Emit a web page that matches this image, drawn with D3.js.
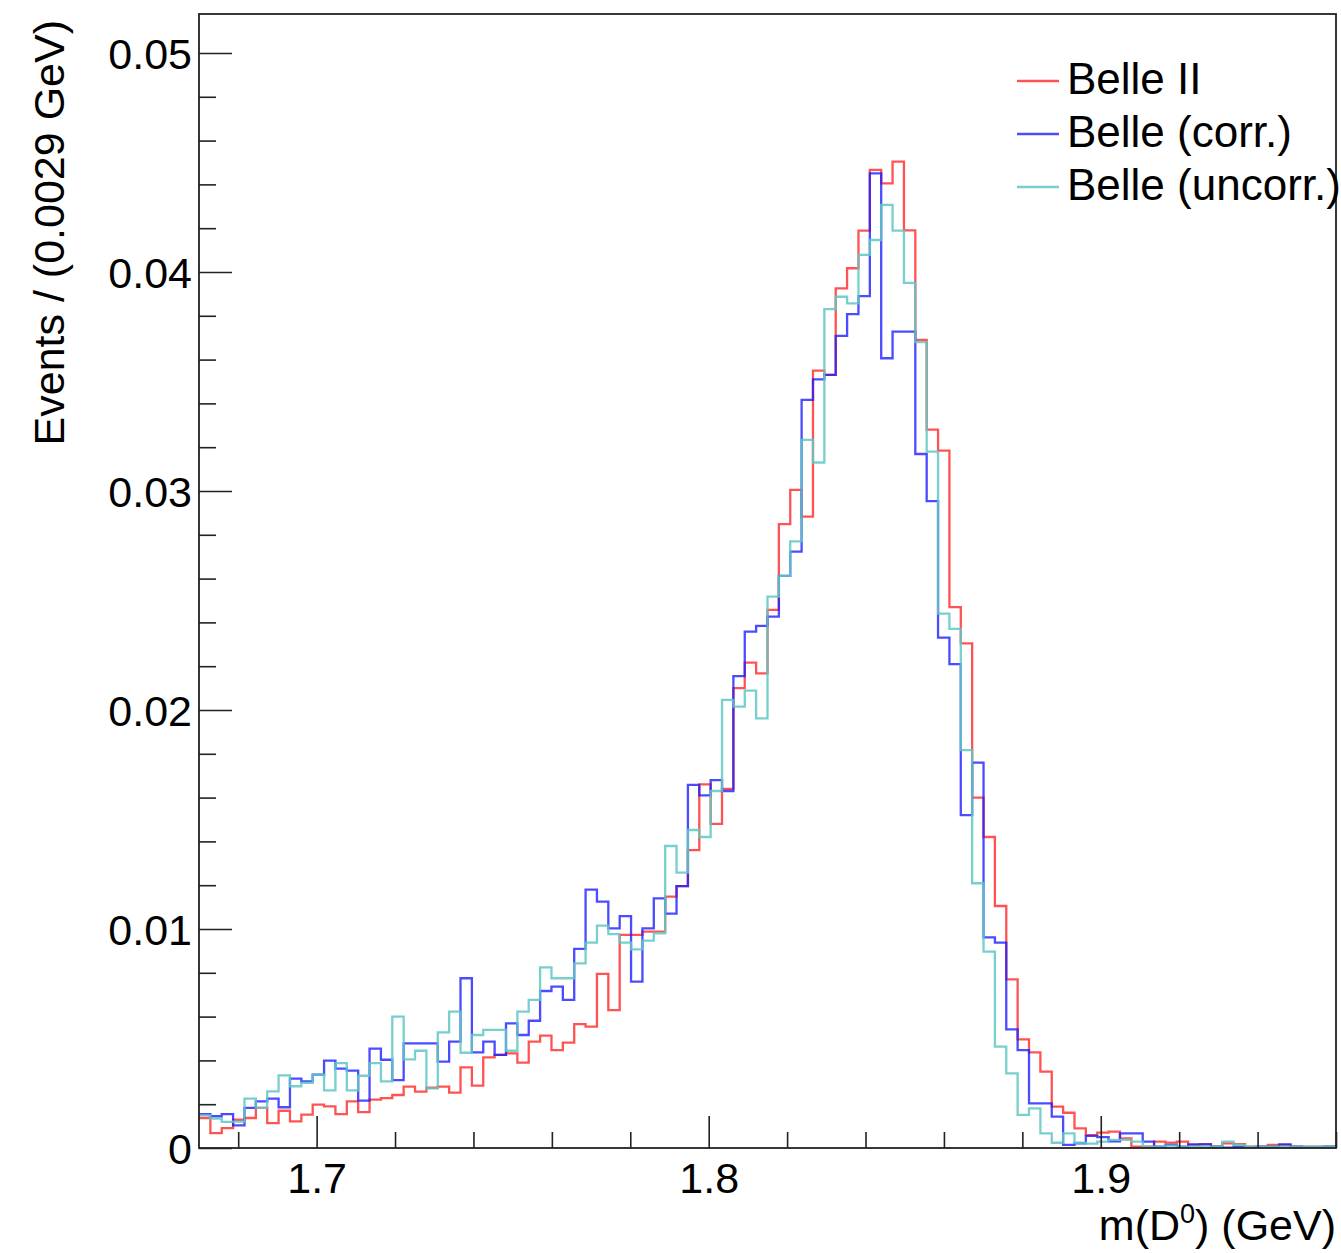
<!DOCTYPE html>
<html>
<head>
<meta charset="utf-8">
<script src="https://cdn.jsdelivr.net/npm/d3@7"></script>
<style>
  body { margin: 0; background: #fff; }
  svg { display: block; }
  text { font-family: "Liberation Sans", Arial, Helvetica, sans-serif; fill: #000; }
</style>
</head>
<body>
<div id="chart"></div>
<script>
// histogram binning: 100 bins of 0.0029 GeV
var xMin = 1.67, xMax = 1.96, nBins = 100

// bin contents, in units of 1e-3
var belleII = [1.37,0.68,0.91,1.29,1.37,1.83,1.14,1.70,1.22,1.52,
  1.98,1.90,1.55,2.13,1.64,2.21,2.28,2.42,2.80,2.57,
  2.75,2.80,2.53,3.68,2.85,4.14,4.25,4.32,3.90,4.86,
  5.13,4.47,4.81,5.66,5.54,7.95,6.30,9.73,9.73,9.88,
  9.88,11.48,11.96,13.60,16.60,14.80,16.40,21.00,22.16,21.67,
  24.57,28.49,30.05,28.83,35.50,35.30,39.25,40.17,41.89,44.66,
  44.05,45.04,41.90,36.90,32.80,31.84,24.70,23.04,16.00,14.20,
  11.05,7.70,4.96,4.37,3.49,1.89,1.61,0.90,0.59,0.70,
  0.75,0.44,0.06,0.06,0.29,0.25,0.29,0.14,0.18,0.06,
  0.21,0.18,0.06,0.06,0.14,0.14,0.06,0.06,0.06,0.06]

var belleCorr = [1.55,1.45,1.55,1.03,1.83,2.13,2.25,1.86,3.17,3.04,
  3.35,3.99,3.62,3.53,2.16,4.54,4.03,3.10,4.78,4.78,
  4.78,3.94,4.86,7.75,4.37,4.86,4.25,5.69,5.16,5.81,
  7.17,7.37,6.76,9.09,11.80,11.25,10.03,10.59,7.60,10.03,
  11.40,10.70,11.96,16.58,16.10,16.80,16.30,21.55,23.58,23.84,
  24.26,26.12,27.23,34.16,35.10,35.30,37.08,38.08,38.90,44.50,
  36.06,37.28,37.28,31.69,29.54,23.30,22.09,15.20,17.60,9.62,
  9.38,5.42,4.47,2.04,2.04,1.43,0.14,0.21,0.55,0.50,
  0.30,0.67,0.67,0.29,0.06,0.14,0.06,0.17,0.17,0.06,
  0.02,0.06,0.02,0.06,0.06,0.17,0.06,0.02,0.02,0.06]

var belleUncorr = [1.49,1.34,1.19,1.20,2.25,1.83,2.59,3.32,2.82,2.97,
  3.35,2.63,3.88,2.63,3.30,3.88,3.04,6.00,4.05,4.44,
  2.72,5.28,6.23,4.35,5.16,5.39,5.39,4.44,6.23,6.76,
  8.25,7.75,7.75,8.43,9.38,10.15,9.77,9.38,9.07,9.47,
  9.80,13.79,12.57,14.52,14.20,16.30,20.46,20.15,20.88,19.62,
  25.18,26.12,27.70,32.33,31.30,38.30,38.87,38.57,40.78,41.46,
  43.06,41.89,39.50,36.80,31.80,24.40,23.70,18.17,12.09,8.97,
  4.63,3.41,1.51,1.81,0.67,0.24,0.67,0.24,0.20,0.29,
  0.37,0.37,0.29,0.06,0.06,0.11,0.06,0.06,0.06,0.06,
  0.29,0.14,0.06,0.06,0.06,0.06,0.06,0.06,0.06,0.06]

var seriesNames = ["Belle II", "Belle (corr.)", "Belle (uncorr.)"]
var seriesColors = ["rgba(255,40,40,0.8)", "rgba(30,30,255,0.8)", "rgba(95,200,195,0.85)"]

var xMajorTicks = [1.7, 1.8, 1.9]
var yMajorTicks = [0, 0.01, 0.02, 0.03, 0.04, 0.05]

var width = 1341, height = 1253
var frameL = 199, frameR = 1336, frameT = 14, frameB = 1148

var svg = d3.select("#chart")
  .append("svg")
  .attr("width", width)
  .attr("height", height)

var x = d3.scaleLinear().domain([xMin, xMax]).range([frameL, frameR])
var y = d3.scaleLinear().domain([0, 0.05178]).range([frameB, frameT])

var binW = (xMax - xMin) / nBins

svg.append("clipPath").attr("id", "frameClip")
  .append("rect")
  .attr("x", frameL).attr("y", frameT)
  .attr("width", frameR - frameL).attr("height", frameB - frameT)

// histograms as step lines
var allSeries = [belleII, belleCorr, belleUncorr]
var line = d3.line()
  .x(d => x(d[0]))
  .y(d => y(d[1]))
  .curve(d3.curveStepAfter)

allSeries.forEach(function (vals, k) {
  var pts = vals.map((v, i) => [xMin + i * binW, v / 1000])
  pts.push([xMax, vals[vals.length - 1] / 1000])
  svg.append("path")
    .attr("clip-path", "url(#frameClip)")
    .attr("d", line(pts))
    .attr("fill", "none")
    .attr("stroke", seriesColors[k])
    .attr("stroke-width", 2.3)
})

// y axis: major + minor ticks, drawn inside the frame
var yMinor = d3.range(0, 0.0519, 0.002).filter(v => Math.abs(v * 100 - Math.round(v * 100)) > 1e-6)
svg.append("g")
  .attr("transform", `translate(${frameL},0)`)
  .call(d3.axisLeft(y).tickValues(yMinor).tickSize(-17).tickFormat(""))
  .call(g => g.select(".domain").remove())
var yAxis = svg.append("g")
  .attr("transform", `translate(${frameL},0)`)
  .call(d3.axisLeft(y).tickValues(yMajorTicks).tickSize(-33).tickPadding(7)
    .tickFormat(d => d === 0 ? "0" : d3.format(".2f")(d)))
yAxis.select(".domain").remove()
yAxis.selectAll("text").style("font-size", "43px").attr("dy", "0.36em")

// x axis
var xMinor = d3.range(1.68, 1.961, 0.02).filter(v => Math.abs(v * 10 - Math.round(v * 10)) > 1e-6)
svg.append("g")
  .attr("transform", `translate(0,${frameB})`)
  .call(d3.axisBottom(x).tickValues(xMinor).tickSize(-16).tickFormat(""))
  .call(g => g.select(".domain").remove())
var xAxis = svg.append("g")
  .attr("transform", `translate(0,${frameB})`)
  .call(d3.axisBottom(x).tickValues(xMajorTicks).tickSize(-32).tickPadding(14)
    .tickFormat(d3.format(".1f")))
xAxis.select(".domain").remove()
xAxis.selectAll("text").style("font-size", "43px")

svg.selectAll(".tick line").attr("stroke", "#222").attr("stroke-width", 1.6)

// frame
svg.append("rect")
  .attr("x", frameL).attr("y", frameT)
  .attr("width", frameR - frameL).attr("height", frameB - frameT)
  .attr("fill", "none")
  .attr("stroke", "#222")
  .attr("stroke-width", 1.8)

// axis titles
var xt = svg.append("text")
  .attr("x", frameR)
  .attr("y", 1240)
  .attr("text-anchor", "end")
  .style("font-size", "43px")
xt.append("tspan").text("m(D")
xt.append("tspan").attr("dy", -17).style("font-size", "27px").text("0")
xt.append("tspan").attr("dy", 17).text(") (GeV)")

svg.append("text")
  .attr("transform", "translate(64,20) rotate(-90)")
  .attr("text-anchor", "end")
  .style("font-size", "43px")
  .text("Events / (0.0029 GeV)")

// legend
var legend = svg.append("g")
seriesNames.forEach(function (name, k) {
  var ly = 81 + k * 53
  legend.append("line")
    .attr("x1", 1017).attr("x2", 1059)
    .attr("y1", ly).attr("y2", ly)
    .attr("stroke", seriesColors[k])
    .attr("stroke-width", 2.3)
  legend.append("text")
    .attr("x", 1067)
    .attr("y", ly + 13)
    .style("font-size", "44px")
    .text(name)
})
</script>
</body>
</html>
